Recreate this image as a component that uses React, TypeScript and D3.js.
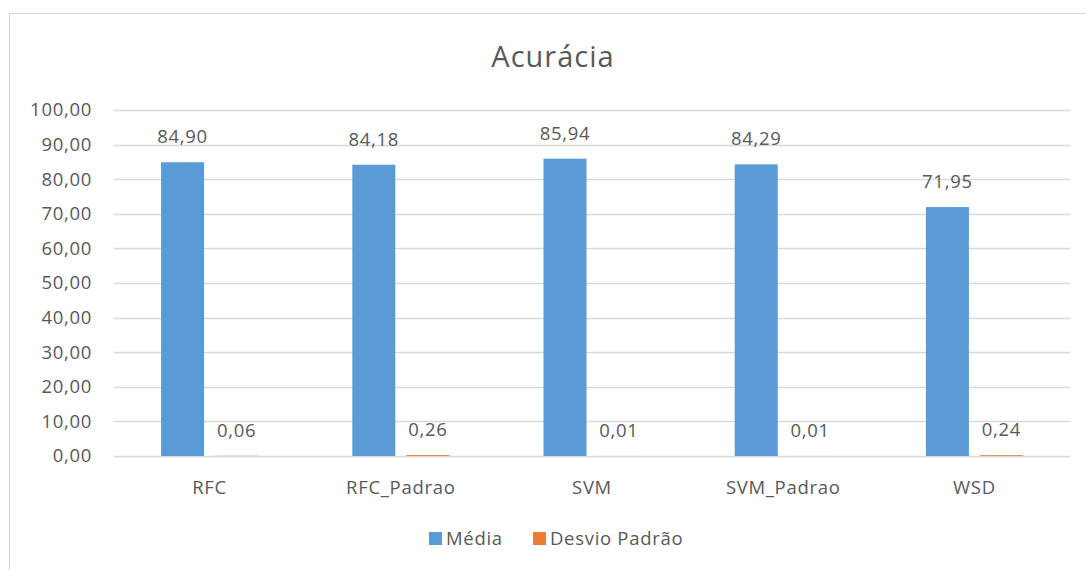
import React, { useEffect, useRef } from 'react';
import * as d3 from 'd3';

const categories = ['RFC', 'RFC_Padrao', 'SVM', 'SVM_Padrao', 'WSD'];
const mediaValues = [84.9, 84.18, 85.94, 84.29, 71.95];
const desvioValues = [0.06, 0.26, 0.01, 0.01, 0.24];
const seriesNames = ['Média', 'Desvio Padrão'];
const yTicks = [0, 10, 20, 30, 40, 50, 60, 70, 80, 90, 100];

const W = 1086;
const H = 570;
const colors = ['#5B9BD5', '#ED7D31'];
const textColor = '#595959';
const font = '"Open Sans", Lato, sans-serif';
const ls = 0.7;

const fmt = (v: number, d = 2) => v.toFixed(d).replace('.', ',');

const App = () => {
  const ref = useRef<SVGSVGElement>(null);

  useEffect(() => {
    const svg = d3.select(ref.current);
    svg.selectAll('*').remove();

    const margin = { left: 114, right: 16, top: 110, bottom: 114 };
    const x = d3
      .scaleBand()
      .domain(categories)
      .range([margin.left, W - margin.right])
      .padding(0);
    const y = d3
      .scaleLinear()
      .domain([0, 100])
      .range([H - margin.bottom, margin.top]);

    // chart border
    svg
      .append('rect')
      .attr('x', 9.5)
      .attr('y', 13.5)
      .attr('width', 1200)
      .attr('height', 700)
      .attr('fill', '#fff')
      .attr('stroke', '#d9d9d9');

    // title
    svg
      .append('text')
      .attr('x', 553)
      .attr('y', 67)
      .attr('text-anchor', 'middle')
      .attr('font-family', font)
      .attr('font-size', 29)
      .attr('letter-spacing', 1)
      .attr('fill', textColor)
      .text('Acurácia');

    // gridlines + y labels
    const grid = svg.append('g');
    grid
      .selectAll('line')
      .data(yTicks)
      .enter()
      .append('line')
      .attr('x1', margin.left)
      .attr('x2', W - margin.right)
      .attr('y1', d => Math.round(y(d)) + 0.5)
      .attr('y2', d => Math.round(y(d)) + 0.5)
      .attr('stroke', '#d9d9d9')
      .attr('stroke-width', 1.5);
    grid
      .selectAll('text')
      .data(yTicks)
      .enter()
      .append('text')
      .attr('x', 92)
      .attr('y', d => y(d))
      .attr('dy', '0.35em')
      .attr('text-anchor', 'end')
      .attr('font-family', font)
      .attr('font-size', 18.5)
      .attr('letter-spacing', ls)
      .attr('fill', textColor)
      .text(d => fmt(d));

    const bw = 43;
    const off = 27;
    const series = [mediaValues, desvioValues];

    series.forEach((vals, s) => {
      const cx = (i: number) => x(categories[i])! + x.bandwidth() / 2 + (s === 0 ? -off : off);
      const g = svg.append('g');
      g.selectAll('rect')
        .data(vals)
        .enter()
        .append('rect')
        .attr('x', (d, i) => cx(i) - bw / 2)
        .attr('width', bw)
        .attr('y', d => y(d))
        .attr('height', d => y(0) - y(d))
        .attr('fill', colors[s]);
      g.selectAll('text')
        .data(vals)
        .enter()
        .append('text')
        .attr('x', (d, i) => cx(i))
        .attr('y', d => y(d) - 19)
        .attr('text-anchor', 'middle')
        .attr('font-family', font)
        .attr('font-size', 18.5)
        .attr('letter-spacing', ls)
        .attr('fill', textColor)
        .text(d => fmt(d));
    });

    // x labels
    svg
      .append('g')
      .selectAll('text')
      .data(categories)
      .enter()
      .append('text')
      .attr('x', d => x(d)! + x.bandwidth() / 2)
      .attr('y', 494)
      .attr('text-anchor', 'middle')
      .attr('font-family', font)
      .attr('font-size', 18.5)
      .attr('letter-spacing', ls)
      .attr('fill', textColor)
      .text(d => d);

    // legend
    const legendX = [429, 533];
    const lg = svg.append('g');
    seriesNames.forEach((name, i) => {
      lg.append('rect')
        .attr('x', legendX[i])
        .attr('y', 532)
        .attr('width', 13)
        .attr('height', 13)
        .attr('fill', colors[i]);
      lg.append('text')
        .attr('x', legendX[i] + 17)
        .attr('y', 545)
        .attr('font-family', font)
        .attr('font-size', 18.5)
        .attr('letter-spacing', ls)
        .attr('fill', textColor)
        .text(name);
    });
  }, []);

  return (
    <svg
      ref={ref}
      width={W}
      height={H}
      style={{ position: 'absolute', left: 0, top: 0, background: '#fff' }}
    />
  );
};

export default App;
